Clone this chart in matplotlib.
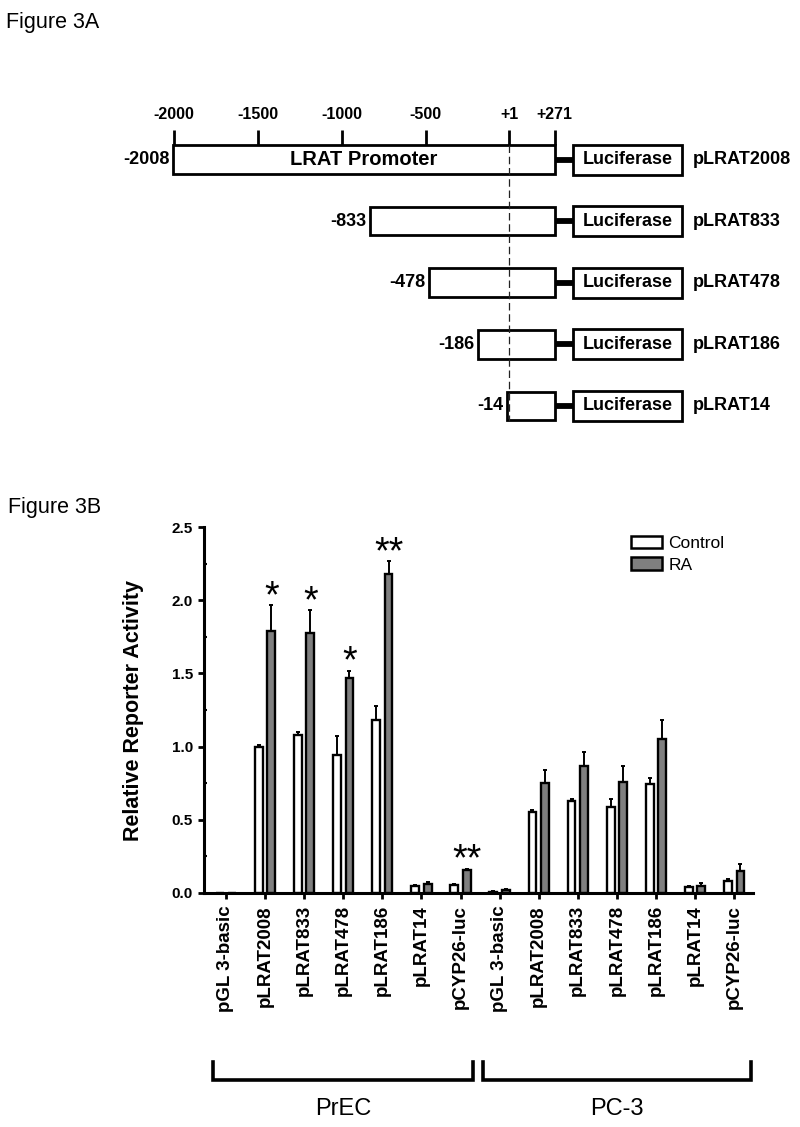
import numpy as np
import matplotlib
matplotlib.use("Agg")
import matplotlib.pyplot as plt
from matplotlib.patches import Rectangle, Patch
from matplotlib.transforms import blended_transform_factory

plt.rcParams["font.family"] = ["Liberation Sans", "DejaVu Sans"]

# ---------------- dados: Figura 3A (construcoes) ----------------
construcoes = ["pLRAT2008", "pLRAT833", "pLRAT478", "pLRAT186", "pLRAT14"]
inicio_bp = [-2008, -833, -478, -186, -14]
fim_bp = 271
escala_bp = [-2000, -1500, -1000, -500, 1, 271]
escala_txt = ["-2000", "-1500", "-1000", "-500", "+1", "+271"]

# ---------------- dados: Figura 3B (atividade) ----------------
plasmideos = ["pGL 3-basic", "pLRAT2008", "pLRAT833", "pLRAT478",
              "pLRAT186", "pLRAT14", "pCYP26-luc"]
grupos = ["PrEC", "PC-3"]
prec_ctrl = [0.0, 1.00, 1.08, 0.94, 1.18, 0.045, 0.05]
prec_ctrl_err = [0.0, 0.01, 0.02, 0.13, 0.10, 0.008, 0.01]
prec_ra = [0.0, 1.79, 1.78, 1.47, 2.18, 0.062, 0.155]
prec_ra_err = [0.0, 0.18, 0.155, 0.05, 0.09, 0.008, 0.01]
pc3_ctrl = [0.006, 0.555, 0.63, 0.585, 0.745, 0.04, 0.08]
pc3_ctrl_err = [0.003, 0.01, 0.01, 0.055, 0.04, 0.006, 0.012]
pc3_ra = [0.018, 0.75, 0.87, 0.755, 1.055, 0.048, 0.148]
pc3_ra_err = [0.005, 0.09, 0.095, 0.113, 0.13, 0.016, 0.046]
estrelas = ["", "*", "*", "*", "**", "", "**", "", "", "", "", "", "", ""]

W, H = 800, 1127
fig = plt.figure(figsize=(W / 100, H / 100), dpi=100)

# ============================================================
# FIGURA 3A - mapa das construcoes (coordenadas em bp x pixels)
# ============================================================
px_por_bp = 0.1676
x0_px = 509.3
axa = fig.add_axes([0, 0, 1, 1])
axa.set_xlim(-x0_px / px_por_bp, (W - x0_px) / px_por_bp)
axa.set_ylim(H, 0)
axa.axis("off")

y_linha0, passo = 159.5, 61.6
luc_ini, luc_fim = 380, 1030
rotulo_x = 1094

for i, (nome, ini) in enumerate(zip(construcoes, inicio_bp)):
    yc = y_linha0 + passo * i
    axa.add_patch(Rectangle((ini, yc - 14.3), fim_bp - ini, 28.6, facecolor="white",
                            edgecolor="black", lw=2.0, zorder=2))
    axa.plot([fim_bp, luc_ini], [yc, yc], color="black", lw=4.2, solid_capstyle="butt", zorder=1)
    axa.add_patch(Rectangle((luc_ini, yc - 15), luc_fim - luc_ini, 30, facecolor="white",
                            edgecolor="black", lw=2.0, zorder=2))
    axa.text((luc_ini + luc_fim) / 2, yc, "Luciferase", ha="center", va="center",
             fontsize=13, fontweight="bold", zorder=4)
    axa.text(rotulo_x, yc, nome, ha="left", va="center", fontsize=13, fontweight="bold")
    axa.annotate(f"{ini}", (ini, yc), xytext=(-2.5, 0), textcoords="offset points",
                 ha="right", va="center", fontsize=13, fontweight="bold")
    if i == 0:
        axa.text((ini + fim_bp) / 2, yc, "LRAT Promoter", ha="center", va="center",
                 fontsize=14.5, fontweight="bold", zorder=4)
        y_topo = yc - 14.3
        for pos, txt in zip(escala_bp, escala_txt):
            axa.plot([pos, pos], [y_topo - 15, y_topo], color="black", lw=2.0,
                     solid_capstyle="butt", zorder=3)
            axa.text(pos, y_topo - 31, txt, ha="center", va="center",
                     fontsize=11.5, fontweight="bold")

# linha tracejada no +1
y_fim = y_linha0 + passo * (len(construcoes) - 1) + 15
axa.plot([1, 1], [y_linha0 - 14.3, y_fim], color="#222222", lw=0.9,
         linestyle=(0, (6, 3)), zorder=3)

fig.text(6 / W, 1 - 12 / H, "Figure 3A", ha="left", va="top", fontsize=15.5)
fig.text(8 / W, 1 - 497 / H, "Figure 3B", ha="left", va="top", fontsize=15.5)

# ============================================================
# FIGURA 3B - atividade do reporter
# ============================================================
ax = fig.add_axes([204 / W, 1 - 892.7 / H, 549 / W, 365.4 / H])
ax.set_zorder(5)
ax.patch.set_alpha(0)

ctrl = np.array(prec_ctrl + pc3_ctrl)
ctrl_err = np.array(prec_ctrl_err + pc3_ctrl_err)
ra = np.array(prec_ra + pc3_ra)
ra_err = np.array(prec_ra_err + pc3_ra_err)
x = np.arange(len(ctrl))
larg, desl = 0.2, 0.16

ax.bar(x - desl, ctrl, width=larg, color="white", edgecolor="black", lw=1.7,
       yerr=[np.zeros_like(ctrl_err), ctrl_err],
       error_kw=dict(elinewidth=1.4, capsize=1.5, capthick=1.4, ecolor="black"))
ax.bar(x + desl, ra, width=larg, color="#7f7f7f", edgecolor="black", lw=1.7,
       yerr=[np.zeros_like(ra_err), ra_err],
       error_kw=dict(elinewidth=1.4, capsize=1.5, capthick=1.4, ecolor="black"))

for xi, v, e, s in zip(x, ra, ra_err, estrelas):
    if s:
        ax.annotate(s, (xi + desl, v + e), xytext=(0, -1.5), textcoords="offset points",
                    ha="center", va="baseline", fontsize=27)

ax.set_xlim(-0.56, 13.48)
ax.set_ylim(0, 2.5)
ax.set_yticks([0, 0.5, 1.0, 1.5, 2.0, 2.5])
ax.set_yticklabels([f"{v:.1f}" for v in [0, 0.5, 1.0, 1.5, 2.0, 2.5]],
                   fontsize=11, fontweight="bold")
ax.set_yticks(np.arange(0.25, 2.5, 0.5), minor=True)
ax.set_xticks(x)
ax.set_xticklabels(plasmideos * 2, rotation=90, fontsize=13.5, fontweight="bold")
ax.tick_params(axis="both", which="major", direction="out", length=4, width=2)
ax.tick_params(axis="x", pad=5)
ax.tick_params(axis="y", pad=4)
ax.tick_params(axis="y", which="minor", direction="in", length=2, width=1.5)
for lado in ["top", "right"]:
    ax.spines[lado].set_visible(False)
for lado in ["left", "bottom"]:
    ax.spines[lado].set_linewidth(2.2)

ax.set_ylabel("Relative Reporter Activity", fontsize=15.5, fontweight="bold")
ax.yaxis.set_label_coords((144 - 204) / 549, 0.5)

handles = [Patch(facecolor="white", edgecolor="black", lw=1.8, label="Control"),
           Patch(facecolor="#7f7f7f", edgecolor="black", lw=1.8, label="RA")]
ax.legend(handles=handles, loc="upper left", bbox_to_anchor=(631 / W, 1 - 536 / H),
          bbox_transform=fig.transFigure, frameon=False, borderpad=0, borderaxespad=0,
          handlelength=1.8, handleheight=0.72, handletextpad=0.35, labelspacing=0.35,
          fontsize=12.5)

# chaves dos grupos
tr = blended_transform_factory(ax.transData, fig.transFigure)
n = len(plasmideos)
y_sup, y_inf, y_txt = 1 - 1062 / H, 1 - 1080 / H, 1 - 1108.7 / H
for g, nome in enumerate(grupos):
    a, b = g * n - 0.33, (g + 1) * n - 1 + 0.32 + (0.1 if g == 1 else 0)
    if g == 1:
        a = g * n - 0.43
    ax.plot([a, a, b, b], [y_sup, y_inf, y_inf, y_sup], color="black", lw=2.6,
            transform=tr, clip_on=False, solid_joinstyle="miter")
    ax.text((a + b) / 2, y_txt, nome, transform=tr, ha="center", va="center", fontsize=17)

fig.savefig("out.png", dpi=100)
